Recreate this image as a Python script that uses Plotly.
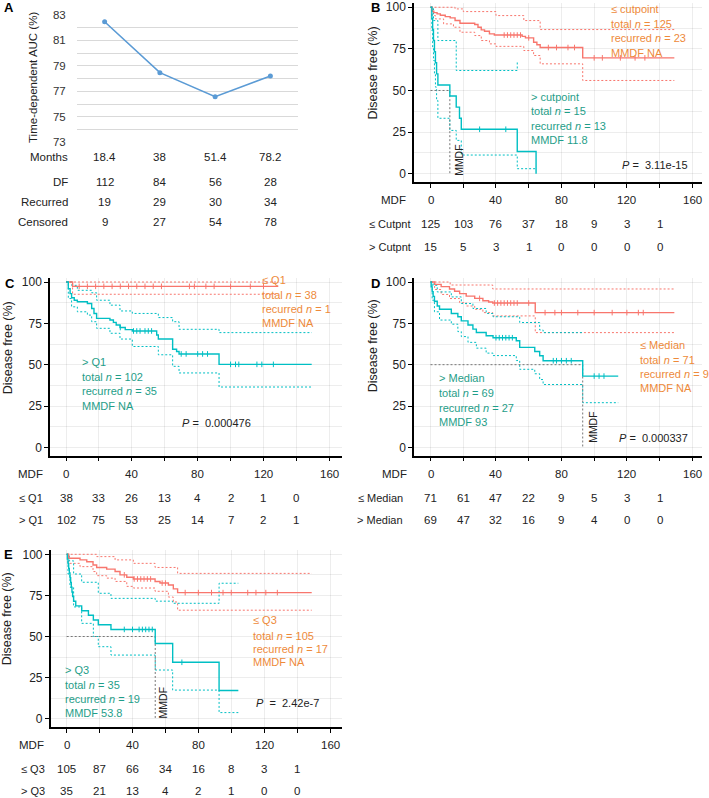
import bisect
import plotly.graph_objects as go

W, H = 709, 798
FONT = "Liberation Sans, Arial, sans-serif"
RED = "#F8766D"
TEAL = "#00BFC4"
ORANGE_TXT = "#EE8A3A"
TEAL_TXT = "#1F9E89"
TXT = "#222222"
GRID = "rgba(0,0,0,0.07)"
DOT = "2px,2px"

# ---------------- Panel A data ----------------
months = ["18.4", "38", "51.4", "78.2"]
auc = [82.47, 78.47, 76.58, 78.2]
df_counts = [112, 84, 56, 28]
recurred_counts = [19, 29, 30, 34]
censored_counts = [9, 27, 54, 78]
a_row_labels = ["Months", "DF", "Recurred", "Censored"]

# ---------------- KM common ----------------
mdf_ticks = [0, 40, 80, 120, 160]
risk_times = [0, 20, 40, 60, 80, 100, 120, 140]

# ---------------- Panel B data ----------------
b_low_t = [0, 1, 2, 4, 6, 9, 12, 15, 18, 27, 29, 31, 33, 36, 39, 56, 58, 63, 65, 67, 93, 149]
b_low_s = [100, 97.6, 96.8, 96.0, 95.2, 94.4, 93.6, 92.0, 90.4, 89.6, 88.0, 86.4, 85.6, 84.0, 83.3, 82.5, 81.6, 79.0, 77.5, 75.8, 69.6, 69.6]
b_low_up_t = [0, 15, 20, 40, 57, 67, 149]
b_low_up_s = [100, 99, 97.4, 95, 92, 86.6, 86.6]
b_low_lo_t = [0, 1, 3, 8, 14, 18, 27, 31, 36, 40, 57, 63, 67, 93, 149]
b_low_lo_s = [100, 95, 93, 90, 88, 85, 83, 80, 78, 76.5, 74, 71, 66, 56, 56]
b_high_t = [0, 0.8, 1.3, 1.8, 2.4, 3.0, 3.7, 4.5, 11.8, 15.7, 17.7, 18.8, 53, 64.5]
b_high_s = [100, 93.3, 86.7, 80, 73.3, 66.7, 60, 53.3, 46.7, 40, 33.3, 26.7, 13.3, 0]
b_high_up_t = [0, 1.8, 4.5, 15.7, 46, 53, 54]
b_high_up_s = [100, 92, 80, 62, 62, 67, 67]
b_high_lo_t = [0, 0.8, 1.3, 1.8, 2.4, 3.0, 3.7, 4.5, 11.8, 15.7, 18.8, 53, 64.5]
b_high_lo_s = [100, 86, 76, 68, 60, 52, 44, 33.3, 26, 20, 11.2, 3, 3]
b_low_cens = [45, 47, 49, 51, 53, 55, 60, 72, 77, 84, 88, 100, 105, 116, 125, 131]
b_high_cens = [30, 46]
b_mmdf = 11.8
b_risk_low = [125, 103, 76, 37, 18, 9, 3, 1]
b_risk_high = [15, 5, 3, 1, 0, 0, 0, 0]
b_rows = ["≤ Cutpnt", "> Cutpnt"]
b_low_text = ["≤ cutpoint", "total <i>n</i> = 125", "recurred <i>n</i> = 23", "MMDF NA"]
b_high_text = ["> cutpoint", "total <i>n</i> = 15", "recurred <i>n</i> = 13", "MMDF 11.8"]
b_p = "<i>P</i> =  3.11e-15"

# ---------------- Panel C data ----------------
c_low_t = [0, 4, 129]
c_low_s = [100, 97.4, 97.4]
c_low_up_t = [0, 4, 129]
c_low_up_s = [100, 100, 100]
c_low_lo_t = [0, 4, 129]
c_low_lo_s = [100, 92.6, 92.6]
c_high_t = [0, 1.4, 2.5, 3.4, 5, 6.9, 13, 15.6, 17, 18.6, 26.7, 28.8, 30.5, 32.8, 36, 40.3, 55.1, 56.1, 64.8, 67.2, 68.7, 93, 149.3]
c_high_s = [100, 96, 93, 90.5, 89, 88.1, 87, 84, 81, 78, 77, 75.6, 74, 72.5, 71.2, 70.4, 68, 65.5, 59.3, 58, 56.5, 50.2, 50.2]
c_high_up_t = [0, 3.4, 6.9, 15.6, 18.6, 26.7, 32.8, 40.3, 56.1, 64.8, 68.7, 93, 149.3]
c_high_up_s = [100, 98, 95, 93.5, 89, 86, 82.5, 81, 78.5, 76, 71.4, 69.4, 69.4]
c_high_lo_t = [0, 1.4, 3.4, 6.9, 13, 15.6, 18.6, 26.7, 32.8, 40.3, 56.1, 64.8, 68.7, 93, 149.3]
c_high_lo_s = [100, 90, 85, 82, 80, 76, 72, 69, 65.5, 61, 56, 49, 45, 36.5, 36.5]
c_low_cens = [8, 13, 18, 23, 28, 33, 38, 43, 48, 53, 58, 75, 78, 85, 90, 100, 112, 120]
c_high_cens = [33, 41, 43, 45, 48, 50, 52, 70, 73, 80, 83, 86, 100, 103, 105, 116, 119, 126]
c_risk_low = [38, 33, 26, 13, 4, 2, 1, 0]
c_risk_high = [102, 75, 53, 25, 14, 7, 2, 1]
c_rows = ["≤ Q1", "> Q1"]
c_low_text = ["≤ Q1", "total <i>n</i> = 38", "recurred <i>n</i> = 1", "MMDF NA"]
c_high_text = ["> Q1", "total <i>n</i> = 102", "recurred <i>n</i> = 35", "MMDF NA"]
c_p = "<i>P</i> =  0.000476"

# ---------------- Panel D data ----------------
d_low_t = [0, 2.5, 6.5, 11.6, 14.7, 17.8, 21.8, 27, 32, 35.5, 38, 64, 149]
d_low_s = [100, 98.6, 97.2, 95.8, 94.4, 93, 91.5, 90.1, 88.7, 87.9, 87.3, 81.5, 81.5]
d_low_up_t = [0, 12, 38, 149]
d_low_up_s = [100, 98.2, 95.8, 95.8]
d_low_lo_t = [0, 2.5, 6.5, 11.6, 17.8, 21.8, 27, 32, 38, 64, 149]
d_low_lo_s = [100, 95.5, 92.5, 90, 87.5, 85.5, 83.5, 81.5, 79.5, 69.4, 69.4]
d_high_t = [0, 0.4, 1, 1.6, 2.4, 4.1, 5.5, 12.7, 16.7, 18.8, 22.9, 25.9, 28, 34, 38.2, 52.4, 54.5, 63.7, 66.7, 68.8, 93, 114.7]
d_high_s = [100, 97.1, 94.2, 91.3, 88.4, 85.5, 83.5, 81, 79, 76.5, 74, 71.5, 69.5, 67.5, 66.3, 64.5, 60.5, 58, 55.4, 52.4, 43.1, 43.1]
d_high_up_t = [0, 1.6, 4.1, 12.7, 18.8, 25.9, 34, 38.2, 54.5, 66.7, 68.8, 93]
d_high_up_s = [100, 98, 94, 91, 87, 84, 81, 79, 75.5, 71, 69.4, 69.4]
d_high_lo_t = [0, 1, 2.4, 5.5, 12.7, 16.7, 18.8, 22.9, 28, 34, 38.2, 52.4, 54.5, 63.7, 66.7, 68.8, 93, 114.7]
d_high_lo_s = [100, 89, 82, 77, 74.5, 70, 67, 63.5, 60, 57, 55.5, 52.5, 47.2, 44.5, 41, 38, 27, 27]
d_low_cens = [30, 39, 41, 43, 45, 47, 49, 51, 53, 60, 70, 76, 80, 90, 100, 111, 120, 127, 130]
d_high_cens = [40, 42, 44, 46, 48, 50, 75, 77, 80, 83, 86, 100, 103, 106]
d_mmdf = 93
d_risk_low = [71, 61, 47, 22, 9, 5, 3, 1]
d_risk_high = [69, 47, 32, 16, 9, 4, 0, 0]
d_rows = ["≤ Median", "> Median"]
d_low_text = ["≤ Median", "total <i>n</i> = 71", "recurred <i>n</i> = 9", "MMDF NA"]
d_high_text = ["> Median", "total <i>n</i> = 69", "recurred <i>n</i> = 27", "MMDF 93"]
d_p = "<i>P</i> =  0.000337"

# ---------------- Panel E data ----------------
e_low_t = [0, 1.2, 8.1, 12.2, 16, 18.2, 24.3, 29.4, 32.4, 36.5, 40.5, 53.7, 56.7, 61.8, 64.8, 67.4, 148.9]
e_low_s = [100, 97.6, 96.6, 95.5, 93.5, 92, 91, 89.5, 87.5, 86, 85, 83.5, 82.5, 81.3, 79, 76.7, 76.7]
e_low_up_t = [0, 18.2, 29.4, 40.5, 53.7, 67.4, 148.9]
e_low_up_s = [100, 98.6, 96.6, 94.5, 92, 88.4, 88.4]
e_low_lo_t = [0, 1.2, 8.1, 16, 18.2, 24.3, 29.4, 36.5, 40.5, 53.7, 61.8, 64.8, 67.4, 148.9]
e_low_lo_s = [100, 94.5, 92.5, 89.5, 87, 85.5, 83.5, 80.5, 79.5, 77.5, 74, 71, 66, 66]
e_high_t = [0, 0.4, 0.8, 1.2, 1.6, 2.0, 2.4, 2.8, 3.2, 3.6, 4.2, 5.5, 9.1, 13.2, 16.2, 19.2, 26.9, 53.8, 64.4, 92.6, 104.3]
e_high_s = [100, 97.1, 94.3, 91.4, 88.6, 85.7, 82.9, 80.0, 77.1, 74.3, 71.4, 68.6, 65.7, 62.9, 60.0, 57.1, 54.3, 45.7, 34.3, 17.1, 17.1]
e_high_up_t = [0, 1.6, 4.2, 9.1, 19.2, 26.9, 53.8, 64.4, 92.6, 104.3]
e_high_up_s = [100, 96, 88, 83, 76.3, 73.2, 71.5, 70.2, 82.4, 82.4]
e_high_lo_t = [0, 0.8, 2.0, 4.2, 9.1, 16.2, 19.2, 26.9, 53.8, 64.4, 92.6, 104.3]
e_high_lo_s = [100, 88, 80, 68, 58, 50, 43.8, 38.7, 29.6, 17.4, 3.7, 3.7]
e_low_cens = [35, 41, 43, 45, 47, 49, 51, 58, 60, 72, 80, 88, 95, 100, 110, 115, 121, 128]
e_high_cens = [35, 40, 44, 46, 48, 50, 52, 70]
e_mmdf = 53.8
e_risk_low = [105, 87, 66, 34, 16, 8, 3, 1]
e_risk_high = [35, 21, 13, 4, 2, 1, 0, 0]
e_rows = ["≤ Q3", "> Q3"]
e_low_text = ["≤ Q3", "total <i>n</i> = 105", "recurred <i>n</i> = 17", "MMDF NA"]
e_high_text = ["> Q3", "total <i>n</i> = 35", "recurred <i>n</i> = 19", "MMDF 53.8"]
e_p = "<i>P</i>  =  2.42e-7"


def pxx(x):
    return x / W


def pxy(y):
    return 1 - y / H


def step_at(ts, ss, t):
    i = bisect.bisect_right(ts, t) - 1
    return ss[max(i, 0)]


fig = go.Figure()
ann = []

# ---------------- Panel A ----------------
fig.add_trace(go.Scatter(x=months, y=auc, mode="lines+markers",
                         line=dict(color="#5B9BD5", width=1.6),
                         marker=dict(size=5, color="#5B9BD5"),
                         xaxis="x", yaxis="y", showlegend=False))

layout_axes = {}
layout_axes["xaxis"] = dict(domain=[pxx(77), pxx(298)], anchor="y", type="category",
                            range=[-0.5, 3.5], showticklabels=False, showgrid=False,
                            showline=False, zeroline=False, ticks="", automargin=False)
layout_axes["yaxis"] = dict(domain=[pxy(142.3), pxy(15)], anchor="x", range=[73, 83],
                            tickvals=[73, 75, 77, 79, 81, 83], showgrid=True,
                            gridcolor="#D9D9D9", gridwidth=1,
                            minor=dict(tickvals=[74, 76, 78, 80, 82], showgrid=True,
                                       gridcolor="#D9D9D9", gridwidth=1),
                            ticks="outside", ticklen=8, tickcolor="rgba(0,0,0,0)",
                            tickfont=dict(size=11.5, color="#333", family=FONT),
                            showline=False, zeroline=False, automargin=False)

a_rows_y = [157.3, 182.3, 201.7, 222]
a_vals = [months, df_counts, recurred_counts, censored_counts]
for lab, yy, vals in zip(a_row_labels, a_rows_y, a_vals):
    ann.append(dict(x=pxx(70), y=pxy(yy), xref="paper", yref="paper", text=lab,
                    xanchor="right", yanchor="middle", showarrow=False,
                    font=dict(size=11.5, color=TXT, family=FONT)))
    for i, v in enumerate(vals):
        ann.append(dict(x=i, y=pxy(yy), xref="x", yref="paper", text=str(v),
                        xanchor="center", yanchor="middle", showarrow=False,
                        font=dict(size=11.5, color=TXT, family=FONT)))

ann.append(dict(x=pxx(33), y=pxy(78), xref="paper", yref="paper",
                text="Time-dependent AUC (%)", textangle=-90, showarrow=False,
                xanchor="center", yanchor="middle",
                font=dict(size=11.5, color=TXT, family=FONT)))

# ---------------- KM panels ----------------
panels = [
    dict(ax=2, xdom=(414, 702), xr=(-10.1, 165.9), ydom=(3.1, 182.0),
         low=(b_low_t, b_low_s), low_up=(b_low_up_t, b_low_up_s), low_lo=(b_low_lo_t, b_low_lo_s),
         high=(b_high_t, b_high_s), high_up=(b_high_up_t, b_high_up_s), high_lo=(b_high_lo_t, b_high_lo_s),
         low_cens=b_low_cens, high_cens=b_high_cens,
         mmdf=b_mmdf, mmdf_txt=(17.3, 8.2),
         low_text=b_low_text, low_pos=(109.2, [98.8, 90, 81.4, 72.3]),
         high_text=b_high_text, high_pos=(60, [46.3, 37.7, 28.7, 20.2]),
         p=b_p, p_pos=(115.7, 5.2),
         rows=b_rows, risk=(b_risk_low, b_risk_high),
         row_y=(200, 224, 246.7), mdf_right=408, row_right=413,
         ytitle=(373, 72.5), letter="B", letter_pos=(375.5, 7.5)),
    dict(ax=3, xdom=(50, 341.5), xr=(-9.72, 167.4), ydom=(277.9, 455.6),
         low=(c_low_t, c_low_s), low_up=(c_low_up_t, c_low_up_s), low_lo=(c_low_lo_t, c_low_lo_s),
         high=(c_high_t, c_high_s), high_up=(c_high_up_t, c_high_up_s), high_lo=(c_high_lo_t, c_high_lo_s),
         low_cens=c_low_cens, high_cens=c_high_cens,
         mmdf=None, mmdf_txt=None,
         low_text=c_low_text, low_pos=(117.9, [101, 92, 83.5, 75]),
         high_text=c_high_text, high_pos=(8.5, [51.8, 42.7, 34, 25.2]),
         p=c_p, p_pos=(69, 14.5),
         rows=c_rows, risk=(c_risk_low, c_risk_high),
         row_y=(473.6, 497.6, 519.5), mdf_right=45, row_right=45,
         ytitle=(8.3, 348), letter="C", letter_pos=(10, 283)),
    dict(ax=4, xdom=(414, 702), xr=(-10.1, 165.9), ydom=(277.9, 455.6),
         low=(d_low_t, d_low_s), low_up=(d_low_up_t, d_low_up_s), low_lo=(d_low_lo_t, d_low_lo_s),
         high=(d_high_t, d_high_s), high_up=(d_high_up_t, d_high_up_s), high_lo=(d_high_lo_t, d_high_lo_s),
         low_cens=d_low_cens, high_cens=d_high_cens,
         mmdf=d_mmdf, mmdf_txt=(98.8, 12.5),
         low_text=d_low_text, low_pos=(127, [61.9, 52.8, 44.2, 35.7]),
         high_text=d_high_text, high_pos=(4.1, [41.7, 32.7, 24, 15.1]),
         p=d_p, p_pos=(113.7, 5.4),
         rows=d_rows, risk=(d_risk_low, d_risk_high),
         row_y=(473.6, 497.6, 519.5), mdf_right=409, row_right=405,
         ytitle=(373.3, 346), letter="D", letter_pos=(375.5, 283)),
    dict(ax=5, xdom=(50.7, 341.5), xr=(-9.72, 166.99), ydom=(550.2, 726.9),
         low=(e_low_t, e_low_s), low_up=(e_low_up_t, e_low_up_s), low_lo=(e_low_lo_t, e_low_lo_s),
         high=(e_high_t, e_high_s), high_up=(e_high_up_t, e_high_up_s), high_lo=(e_high_lo_t, e_high_lo_s),
         low_cens=e_low_cens, high_cens=e_high_cens,
         mmdf=e_mmdf, mmdf_txt=(58.5, 9.9),
         low_text=e_low_text, low_pos=(111.8, [60, 50.5, 42.4, 34.3]),
         high_text=e_high_text, high_pos=(-2, [29.6, 20.5, 11.8, 3.2]),
         p=e_p, p_pos=(114, 9.3),
         rows=e_rows, risk=(e_risk_low, e_risk_high),
         row_y=(745, 768.5, 790.7), mdf_right=46, row_right=47.3,
         ytitle=(7.3, 619), letter="E", letter_pos=(8, 554.5)),
]

for p in panels:
    n = p["ax"]
    xa, ya = f"x{n}", f"y{n}"

    def add(tx, ty, color, dash, width):
        fig.add_trace(go.Scatter(x=tx, y=ty, mode="lines", line_shape="hv",
                                 line=dict(color=color, dash=dash, width=width),
                                 xaxis=xa, yaxis=ya, showlegend=False, hoverinfo="skip"))

    add(*p["low_up"], RED, DOT, 1)
    add(*p["low_lo"], RED, DOT, 1)
    add(*p["high_up"], TEAL, DOT, 1)
    add(*p["high_lo"], TEAL, DOT, 1)
    if p["mmdf"] is not None:
        m = p["mmdf"]
        fig.add_trace(go.Scatter(x=[0, m, m], y=[50, 50, 0], mode="lines",
                                 line=dict(color="#777777", dash=DOT, width=1),
                                 xaxis=xa, yaxis=ya, showlegend=False, hoverinfo="skip"))
    add(*p["low"], RED, "solid", 1.4)
    add(*p["high"], TEAL, "solid", 1.4)
    for cens, curve, col in ((p["low_cens"], p["low"], RED), (p["high_cens"], p["high"], TEAL)):
        fig.add_trace(go.Scatter(x=cens, y=[step_at(curve[0], curve[1], c) for c in cens],
                                 mode="markers",
                                 marker=dict(symbol="line-ns", size=4, line=dict(color=col, width=1)),
                                 xaxis=xa, yaxis=ya, showlegend=False, hoverinfo="skip"))

    layout_axes[f"xaxis{n}"] = dict(domain=[pxx(p["xdom"][0]), pxx(p["xdom"][1])], anchor=ya,
                                    range=list(p["xr"]), tickvals=list(range(0, 161, 20)),
                                    showticklabels=False, ticks="outside", ticklen=4,
                                    tickcolor="black", tickwidth=1,
                                    showline=True, linecolor="black", linewidth=1.5,
                                    showgrid=True, gridcolor=GRID, gridwidth=1, zeroline=False,
                                    automargin=False)
    layout_axes[f"yaxis{n}"] = dict(domain=[pxy(p["ydom"][1]), pxy(p["ydom"][0])], anchor=xa,
                                    range=[-5, 102.5], tickvals=[0, 25, 50, 75, 100],
                                    ticks="outside", ticklen=4, tickcolor="black", tickwidth=1,
                                    tickfont=dict(size=12, color=TXT, family=FONT),
                                    showline=True, linecolor="black", linewidth=1.5,
                                    showgrid=True, gridcolor=GRID, gridwidth=1,
                                    minor=dict(tickvals=[12.5, 37.5, 62.5, 87.5], showgrid=True,
                                               gridcolor=GRID, gridwidth=1),
                                    zeroline=False, automargin=False)

    lx, lys = p["low_pos"]
    for t, yy in zip(p["low_text"], lys):
        ann.append(dict(x=lx, y=yy, xref=xa, yref=ya, text=t, showarrow=False,
                        xanchor="left", yanchor="middle",
                        font=dict(size=11, color=ORANGE_TXT, family=FONT)))
    hx, hys = p["high_pos"]
    for t, yy in zip(p["high_text"], hys):
        ann.append(dict(x=hx, y=yy, xref=xa, yref=ya, text=t, showarrow=False,
                        xanchor="left", yanchor="middle",
                        font=dict(size=11, color=TEAL_TXT, family=FONT)))
    ann.append(dict(x=p["p_pos"][0], y=p["p_pos"][1], xref=xa, yref=ya, text=p["p"],
                    showarrow=False, xanchor="left", yanchor="middle",
                    font=dict(size=11, color=TXT, family=FONT)))
    if p["mmdf_txt"] is not None:
        ann.append(dict(x=p["mmdf_txt"][0], y=p["mmdf_txt"][1], xref=xa, yref=ya,
                        text="MMDF", textangle=-90, showarrow=False,
                        xanchor="center", yanchor="middle",
                        font=dict(size=10.5, color=TXT, family=FONT)))

    ry0, ry1, ry2 = p["row_y"]
    ann.append(dict(x=pxx(p["mdf_right"]), y=pxy(ry0), xref="paper", yref="paper", text="MDF",
                    showarrow=False, xanchor="right", yanchor="middle",
                    font=dict(size=11.5, color=TXT, family=FONT)))
    for v in mdf_ticks:
        ann.append(dict(x=v, y=pxy(ry0), xref=xa, yref="paper", text=str(v),
                        showarrow=False, xanchor="center", yanchor="middle",
                        font=dict(size=11.5, color=TXT, family=FONT)))
    for lab, yy, vals in zip(p["rows"], (ry1, ry2), p["risk"]):
        ann.append(dict(x=pxx(p["row_right"]), y=pxy(yy), xref="paper", yref="paper", text=lab,
                        showarrow=False, xanchor="right", yanchor="middle",
                        font=dict(size=11, color=TXT, family=FONT)))
        for t, v in zip(risk_times, vals):
            ann.append(dict(x=t, y=pxy(yy), xref=xa, yref="paper", text=str(v),
                            showarrow=False, xanchor="center", yanchor="middle",
                            font=dict(size=11.5, color=TXT, family=FONT)))

    ann.append(dict(x=pxx(p["ytitle"][0]), y=pxy(p["ytitle"][1]), xref="paper", yref="paper",
                    text="Disease free (%)", textangle=-90, showarrow=False,
                    xanchor="center", yanchor="middle",
                    font=dict(size=12.5, color=TXT, family=FONT)))
    ann.append(dict(x=pxx(p["letter_pos"][0]), y=pxy(p["letter_pos"][1]), xref="paper", yref="paper",
                    text=f"<b>{p['letter']}</b>", showarrow=False,
                    xanchor="center", yanchor="middle",
                    font=dict(size=13, color="black", family=FONT)))

ann.append(dict(x=pxx(8.5), y=pxy(7.5), xref="paper", yref="paper", text="<b>A</b>",
                showarrow=False, xanchor="center", yanchor="middle",
                font=dict(size=13, color="black", family=FONT)))

fig.update_layout(width=W, height=H, margin=dict(l=0, r=0, t=0, b=0, autoexpand=False),
                  paper_bgcolor="white", plot_bgcolor="white",
                  font=dict(family=FONT, color=TXT), annotations=ann, **layout_axes)

fig.write_html("out.html", post_script="document.body.style.margin='0';",
               config={"displayModeBar": False})
